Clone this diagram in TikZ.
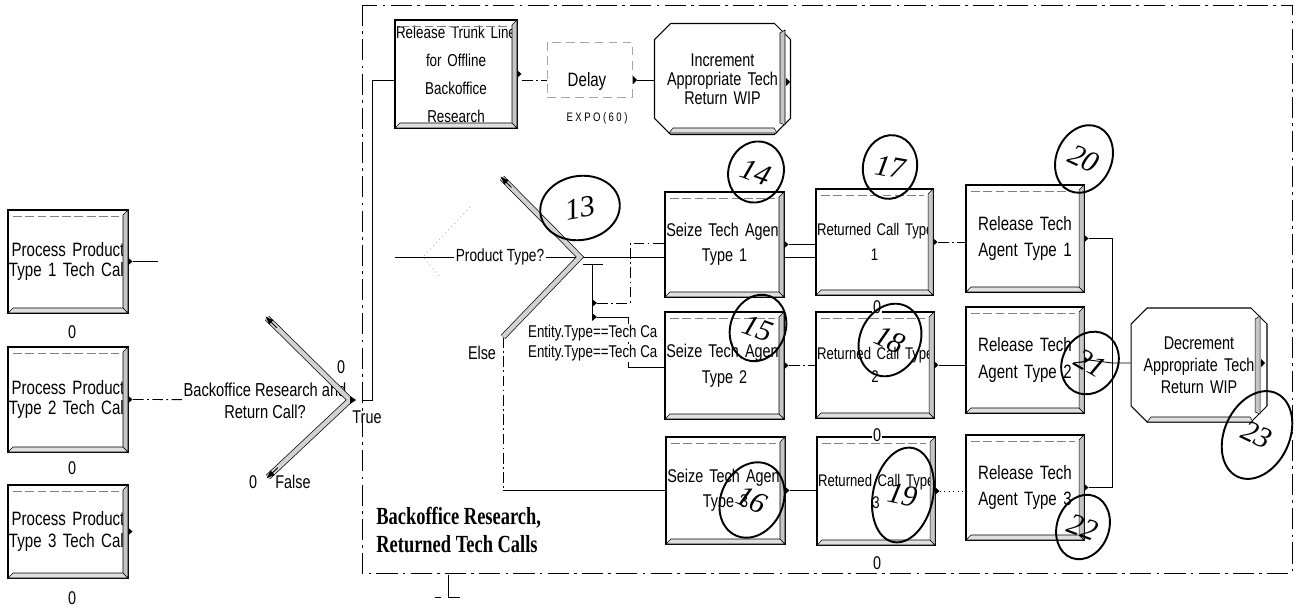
\documentclass[tikz,border=0pt]{standalone}
\usepackage{fontspec}
\setmainfont{Liberation Sans}[FakeStretch=0.78]
\newfontfamily\capfont{Liberation Serif}[FakeStretch=0.75]
\newfontfamily\handfont{Liberation Serif}
\usetikzlibrary{shapes.misc,shapes.geometric,calc,arrows.meta}

% process box: name, x1, y1, x2, y2, text, font size, baselineskip
\newcommand\PBox[8]{%
  \pgfmathsetlengthmacro\PBw{(#4-#2)*0.02cm}%
  \pgfmathsetlengthmacro\PBh{(#5-#3)*0.02cm}%
  \pgfmathsetlengthmacro\PBt{(#4-#2-2)*0.02cm}%
  \node[pbox, minimum width=\PBw, minimum height=\PBh, text width=\PBt,
        font=\fontsize{#7}{#8}\selectfont] (#1) at ({(#2+#4)/2},{(#3+#5)/2}) {#6};
  \draw[line width=0.3pt, fill=gray!25] (#2,#5) -- ({#2+5},{#5-5}) -- ({#4-5},{#5-5}) -- (#4,#5) -- cycle;
  \draw[line width=0.3pt, fill=gray!45] (#4,#3) -- ({#4-5},{#3+5}) -- ({#4-5},{#5-5}) -- (#4,#5) -- cycle;
  \draw[line width=0.3pt, gray, dash pattern=on 5pt off 2pt] ({#2+5},{#3+6}) -- ({#4-9},{#3+6});
  \fill ({#4+0.5},{(#3+#5)/2-3.5}) -- ({#4+4.5},{(#3+#5)/2}) -- ({#4+0.5},{(#3+#5)/2+3.5}) -- cycle;
}

\begin{document}
\begin{tikzpicture}[x=0.02cm,y=-0.02cm,
  conn/.style={line width=0.5pt},
  dconn/.style={line width=0.5pt, dash pattern=on 6pt off 2pt on 1pt off 2pt},
  pbox/.style={draw, fill=white, line width=0.6pt, inner sep=0pt, align=center},
  abox/.style={chamfered rectangle, chamfered rectangle xsep=0.16cm, chamfered rectangle ysep=0.16cm,
               draw, fill=white, line width=0.6pt, inner sep=0pt, align=center},
  lbl/.style={inner sep=1pt, font=\fontsize{10.5}{12.5}\selectfont, align=center},
  cnt/.style={inner sep=0.5pt, font=\fontsize{10.5}{11}\selectfont},
  hand/.style={ellipse, draw, line width=1.1pt, inner sep=0pt,
               font=\handfont\itshape\fontsize{17}{17}\selectfont},
  arm/.style={draw=black, line width=0.4pt, double=gray!35, double distance=0.09cm},
  tip/.style={line width=0.5pt, -{Latex[length=0.17cm,width=0.13cm]}},
  frame/.style={line width=0.5pt, dash pattern=on 12pt off 3pt on 1.5pt off 3pt}]
\useasboundingbox[fill=white] (0,0) rectangle (1304,614);

% submodel frame
\draw[frame] (362,5) rectangle (1292,573);
\draw[conn] (448,575) -- (448,597) -- (460,597);
\draw[conn] (435,597) -- (441,597);

% caption
\node[anchor=north west, align=left, inner sep=0pt,
      font=\capfont\bfseries\fontsize{14}{16}\selectfont] (cap) at (376,507)
      {Backoffice Research,\\Returned Tech Calls};

% left process boxes
\PBox{box1}{8}{210}{128}{313}{Process~Product\\Type~1~Tech~Call}{11}{11}
\PBox{box2}{8}{347}{128}{452}{Process~Product\\Type~2~Tech~Call}{11}{11.5}
\PBox{box3}{8}{485}{128}{578}{Process~Product\\Type~3~Tech~Call}{11}{12.5}
\node[cnt] (c1) at (72,332) {0};
\node[cnt] (c2) at (72,468) {0};
\node[cnt] (c3) at (72,598) {0};

% decision 1
\coordinate (V1) at (350,400);
\coordinate (T1) at (267,318);
\coordinate (B1) at (268,477);
\draw[dconn] ([xshift=0.09cm]box2.east) -- (V1);
\draw[conn] ([xshift=0.09cm]box1.east) -- ++(25,0);
\node[lbl, fill=white, font=\fontsize{10.7}{12.5}\selectfont] (d1lbl) at (265,401) {Backoffice Research and\\Return Call?};
\draw[arm] (T1) -- (V1) -- (B1);
\draw[tip] ($(V1)!0.88!(T1)$) -- ($(V1)!1.02!(T1)$);
\draw[tip] ($(V1)!0.88!(B1)$) -- ($(V1)!1.02!(B1)$);
\fill (350,396) -- (356,400) -- (350,404) -- cycle;
\node[cnt] (d1z1) at (341,367) {0};
\node[cnt] (d1z2) at (253,482) {0};
\node[lbl] (true) at (367,417) {True};
\node[lbl] (false) at (293,482) {False};

% top row
\PBox{rel}{395}{20}{517}{128}{Release~Trunk~Line\\for~Offline\\Backoffice\\Research}{9.8}{15.9}
\node[draw=gray!70, dash pattern=on 5pt off 3pt, line width=0.4pt, minimum width=1.7cm,
      minimum height=1.1cm, inner sep=0pt] (delay) at (589.5,69.5) {};
\node[lbl, font=\fontsize{11}{12}\selectfont] (delaytxt) at (587,82) {Delay};
\node[inner sep=0pt, font=\fontsize{7}{8}\selectfont\addfontfeature{LetterSpace=20}] (expo) at (597,118) {EXPO(60)};
\node[abox, minimum width=2.5cm, minimum height=2.22cm, text width=2.4cm,
      font=\fontsize{10.5}{10.8}\selectfont] (inc) at (722.5,79) {Increment\\Appropriate~Tech\\Return~WIP};
\draw[line width=0.3pt, fill=gray!45] (785,30) -- (780,33) -- (780,123) -- (785,125) -- cycle;
\draw[line width=0.3pt, fill=gray!25] (669,133) -- (673,128) -- (774,128) -- (777,133) -- cycle;
\fill (786,78) -- (790,82) -- (786,86) -- cycle;
\coordinate (relin) at (395,80);
\draw[conn] ($(V1)+(13,0)$) -- (372,400) |- (relin);
\draw[dconn] ([xshift=0.09cm]rel.east |- relin) -- (delay.west |- relin);
\fill (633,76) -- (637,80) -- (633,84) -- cycle;
\draw[conn] (637,80) -- (inc.west |- relin);

% decision 2
\coordinate (V2) at (580,257);
\coordinate (T2) at (502,178);
\coordinate (B2) at (503,337);
\coordinate (pin) at (395,257);
\draw[gray!60, dotted, line width=0.5pt] (470,207) -- (423,257) -- (440,277);
\draw[conn] (pin) -- (V2);
\node[lbl, fill=white, font=\fontsize{10}{12}\selectfont] (ptype) at (500,257) {Product Type?};
\draw[conn] (583,264) -- (603,264);
\draw[conn] (592,264) -- (592,317);
\fill (592,299) -- (597,303) -- (592,307) -- cycle;
\fill (592,313) -- (597,317) -- (592,321) -- cycle;
\draw[dconn] (597,303) -- (630,303) -- (630,243) -- (665,243);
\draw[conn] (597,317) -- (628,317) -- (628,367) -- (665,367);
\node[lbl, anchor=west, fill=white, inner sep=0.5pt, font=\fontsize{9.7}{11}\selectfont] (cond1) at (527,333) {Entity.Type==Tech Ca};
\node[lbl, anchor=west, fill=white, inner sep=0.5pt, font=\fontsize{9.7}{11}\selectfont] (cond2) at (527,353) {Entity.Type==Tech Ca};
\draw[dconn] (B2) -- (503,490);
\draw[conn] (503,490) -- (666,490);
\node[lbl] (else) at (482,353) {Else};
\draw[conn] (V2) -- (665,257);
\draw[arm] (T2) -- (V2) -- (B2);
\draw[tip] ($(V2)!0.88!(T2)$) -- ($(V2)!1.02!(T2)$);

% grid of boxes
\PBox{seize1}{665}{192}{784}{297}{Seize~Tech~Agent\\Type~1}{10.5}{14}
\PBox{seize2}{665}{312}{784}{419}{Seize~Tech~Agent\\Type~2}{10.5}{15}
\PBox{seize3}{666}{437}{785}{544}{Seize~Tech~Agent\\Type~3}{10.5}{14}
\PBox{ret1}{816}{189}{933}{295}{Returned~Call~Type\\1}{9.6}{14}
\PBox{ret2}{816}{312}{934}{418}{Returned~Call~Type\\2}{9.6}{13.5}
\PBox{ret3}{817}{437}{935}{545}{Returned~Call~Type\\3}{9.6}{12.5}
\PBox{rel1}{966}{185}{1084}{292}{Release~Tech\\Agent~Type~1}{11}{15}
\PBox{rel2}{966}{307}{1084}{413}{Release~Tech\\Agent~Type~2}{11}{15}
\PBox{rel3}{966}{435}{1084}{540}{Release~Tech\\Agent~Type~3}{11}{15}
\node[cnt, fill=white] (r2z) at (877,307) {0};
\node[cnt, fill=white] (r3z) at (877,435) {0};
\node[cnt] (r3b) at (877,563) {0};

\node[abox, minimum width=2.44cm, minimum height=2.28cm, text width=2.4cm,
      font=\fontsize{10.5}{12.5}\selectfont] (dec) at (1199,365) {Decrement\\Appropriate~Tech\\Return~WIP};
\draw[line width=0.3pt, fill=gray!45] (1260,316) -- (1255,319) -- (1255,412) -- (1260,414) -- cycle;
\draw[line width=0.3pt, fill=gray!25] (1147,422) -- (1151,417) -- (1250,417) -- (1253,422) -- cycle;
\fill (1261,359) -- (1265,363) -- (1261,367) -- cycle;

% grid connectors
\draw[conn] ([xshift=0.09cm]seize1.east) -- (ret1.west |- seize1.east);
\draw[conn] (784,257) -- (816,257);
\draw[dconn] ([xshift=0.09cm]seize2.east) -- (ret2.west |- seize2.east);
\draw[conn] ([xshift=0.09cm]seize3.east) -- (ret3.west |- seize3.east);
\draw[dconn] ([xshift=0.09cm]ret1.east) -- (rel1.west |- ret1.east);
\draw[conn] ([xshift=0.09cm]ret2.east) -- (rel2.west |- ret2.east);
\draw[line width=0.5pt, dotted] ([xshift=0.09cm]ret3.east) -- (rel3.west |- ret3.east);
\coordinate (jn) at (1112,363);
\draw[conn] ([xshift=0.09cm]rel1.east) -| (jn);
\draw[conn] ([xshift=0.09cm]rel3.east) -| (jn);
\draw[conn] ([xshift=0.09cm]rel2.east) -- (jn) -- (dec.west |- jn);

% handwritten step numbers
\node[hand, minimum width=1.6cm, minimum height=1.28cm, rotate=10] (h13) at (580,208) {13};
\node[hand, minimum width=1.1cm, minimum height=1.24cm, rotate=-20] (h14) at (756,172) {14};
\node[hand, minimum width=1.08cm, minimum height=1.28cm, rotate=-10] (h17) at (890,167) {17};
\node[hand, minimum width=1.1cm, minimum height=1.4cm, rotate=-25] (h20) at (1084,159) {20};
\node[hand, minimum width=1.1cm, minimum height=1.36cm, rotate=-20] (h15) at (758,328) {15};
\node[hand, minimum width=1.2cm, minimum height=1.5cm, rotate=-25] (h18) at (890,340) {18};
\node[hand, minimum width=1.1cm, minimum height=1.3cm, rotate=-30] (h21) at (1090,363) {21};
\node[hand, minimum width=1.3cm, minimum height=1.84cm, rotate=-25] (h23) at (1257,435) {23};
\node[hand, minimum width=1.24cm, minimum height=1.56cm, rotate=-25] (h16) at (752,500) {16};
\node[hand, minimum width=1.2cm, minimum height=1.92cm, rotate=-12] (h19) at (903,495) {19};
\node[hand, minimum width=1.04cm, minimum height=1.32cm, rotate=-20] (h22) at (1083,527) {22};
\end{tikzpicture}
\end{document}
